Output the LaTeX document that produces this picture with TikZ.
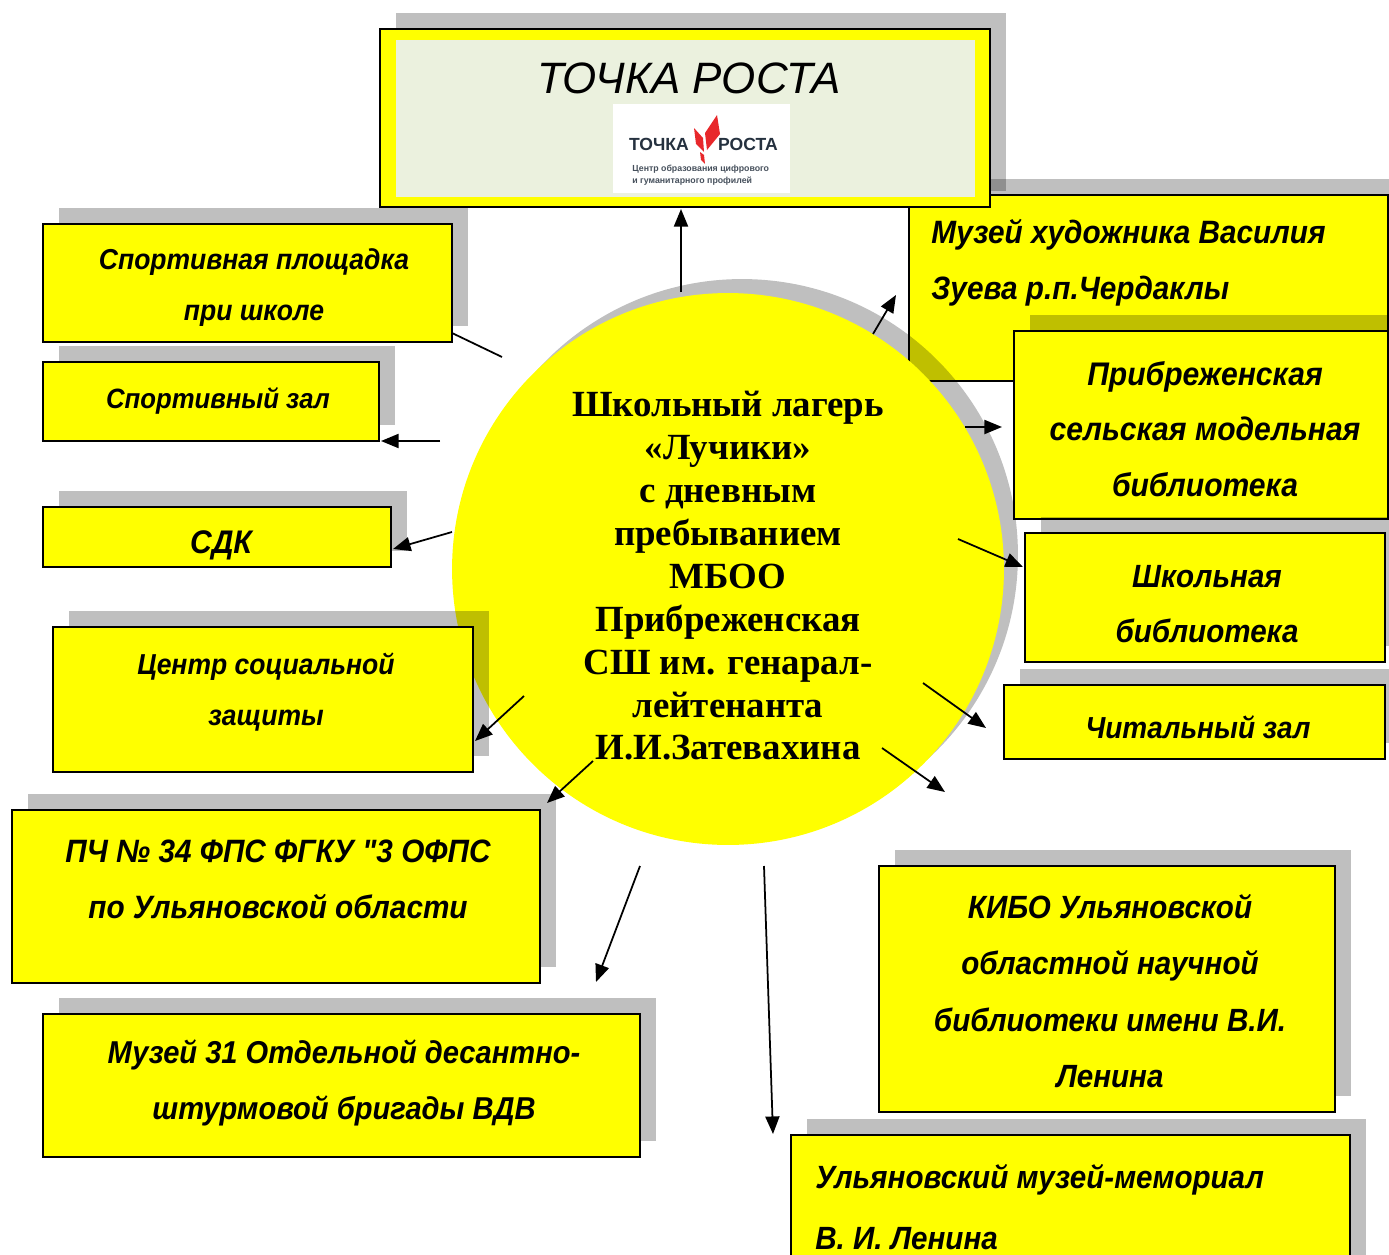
\documentclass[tikz,border=0pt]{standalone}
\usepackage{fontspec}
\setmainfont{Liberation Sans}
\newfontfamily\campfont{Liberation Serif}
\newfontfamily\boxfont{Liberation Sans}[FakeStretch=0.92]
\usetikzlibrary{arrows.meta,shadows,fit}
\definecolor{boxYellow}{RGB}{255,255,0}
\definecolor{paleGreen}{HTML}{EBF1DE}
\definecolor{logoBlue}{HTML}{25313F}
\definecolor{logoRed}{HTML}{E8282B}

\begin{document}
\begin{tikzpicture}[x=0.02cm, y=-0.02cm,
    box/.style={draw, line width=0.9pt, fill=boxYellow, inner sep=0pt,
      drop shadow={shadow xshift=0.32cm, shadow yshift=0.32cm, fill=black, opacity=0.25}},
    lbl/.style 2 args={font=\boxfont\bfseries\itshape\fontsize{#1}{#2}\selectfont, align=center, inner sep=0pt},
    arr/.style={-{Triangle[length=10pt,width=8pt]}, line width=1pt}]

  \useasboundingbox (0,0) rectangle (1389,1254);
  \clip (0,0) rectangle (1389,1254);

  % Museum box sits under the circle
  \node[box, fit={(909,195) (1388,381)}] (zuev) {};
  \node[lbl={18.4}{32}, anchor=west, align=left] (zuev-t) at (931,263) {Музей художника Василия\\Зуева р.п.Чердаклы};

  % Camp circle
  \node[circle, fill=boxYellow, minimum size=11.04cm, inner sep=0pt,
    drop shadow={shadow xshift=0.28cm, shadow yshift=0.28cm, fill=black, opacity=0.25}] (camp) at (728,569) {};
  \node[align=center, font=\campfont\bfseries\fontsize{21}{24.4}\selectfont] (camp-t) at (728,576)
    {Школьный лагерь\\«Лучики»\\с дневным\\пребыванием\\МБОО\\Прибреженская\\СШ им. генарал-\\лейтенанта\\И.И.Затевахина};

  % Tochka rosta
  \node[box, fit={(380,29) (990,207)}] (tochka) {};
  \node[fill=paleGreen, inner sep=0pt, fit={(396,40) (975,197)}] (tochka-in) {};
  \node[font=\itshape\fontsize{25}{28}\selectfont] (tochka-t) at (689,78) {ТОЧКА РОСТА};
  \node[fill=white, inner sep=0pt, fit={(613,104) (790,193)}] (logo) {};
  \node[font=\bfseries\fontsize{10}{10}\selectfont, text=logoBlue] (logo-a) at (659,144) {ТОЧКА};
  \node[font=\bfseries\fontsize{10}{10}\selectfont, text=logoBlue] (logo-b) at (748,144) {РОСТА};
  \fill[logoRed] (717,115) -- (720,134) -- (707,150) -- (705,133) -- cycle;
  \fill[logoRed] (694,128) -- (703,138) -- (704,152) -- (696,144) -- cycle;
  \fill[logoRed] (700,152) -- (704,155) -- (705,164) -- (701,160) -- cycle;
  \node[font=\bfseries\fontsize{5}{6.6}\selectfont, text=logoBlue!85, align=left, anchor=west, inner sep=0pt] (logo-c) at (632,175)
    {Центр образования цифрового\\и гуманитарного профилей};

  % Partner boxes
  \foreach \n/\a/\b/\c/\d in {sport/43/224/452/342, zal/43/362/379/441, sdk/43/507/391/567,
      soc/53/627/473/772, pch/12/810/540/983, vdv/43/1014/640/1157, bibl/1014/331/1388/519,
      shkol/1025/533/1385/662, chit/1004/685/1385/759, kibo/879/866/1335/1112, ulm/791/1135/1350/1290}
    \node[box, fit={(\a,\b) (\c,\d)}] (\n) {};

  % Box texts
  \foreach \n/\x/\y/\s/\k/\t in {sport/254/288/16.4/29/{Спортивная площадка\\при школе},
      zal/218/401/15.9/29/{Спортивный зал}, sdk/221/545/18.6/32/{СДК},
      soc/266/692/16.4/29.5/{Центр социальной\\защиты},
      pch/278/879/18.4/32/{ПЧ № 34 ФПС ФГКУ "3 ОФПС\\по Ульяновской области},
      vdv/344/1083/18/32/{Музей 31 Отдельной десантно-\\штурмовой бригады ВДВ},
      bibl/1205/429/18.6/31.5/{Прибреженская\\сельская модельная\\библиотека},
      shkol/1207/604/18.3/31.5/{Школьная\\библиотека},
      chit/1198/727/17.3/30/{Читальный зал},
      kibo/1110/991/18.3/32/{КИБО Ульяновской\\областной научной\\библиотеки имени В.И.\\Ленина}}
    \node[lbl={\s}{\k}] (\n-t) at (\x,\y) {\t};
  \node[lbl={18.3}{35}, anchor=west, align=left] (ulm-t) at (815,1207) {Ульяновский музей-мемориал\\В. И. Ленина};

  % Connector ends
  \foreach \n/\x/\y in {s1/681/292, e1/681/209, s2/873/334, e2/896/295, s3/452/333, e3/502/357,
      s4/440/441, e4/381/441, s5/452/532, e5/393/549, s6/524/696, e6/475/741,
      s7/593/761, e7/547/803, s8/640/866, e8/596/982, s9/764/866, e9/773/1134,
      s10/965/427, e10/1002/427, s11/958/539, e11/1023/567, s12/923/683, e12/986/728,
      s13/882/748, e13/945/792}
    \coordinate (\n) at (\x,\y);

  \draw[line width=1pt] (s3) -- (e3);
  \foreach \i in {1,2,4,5,6,7,8,9,10,11,12,13}
    \draw[arr] (s\i) -- (e\i);

\end{tikzpicture}
\end{document}
